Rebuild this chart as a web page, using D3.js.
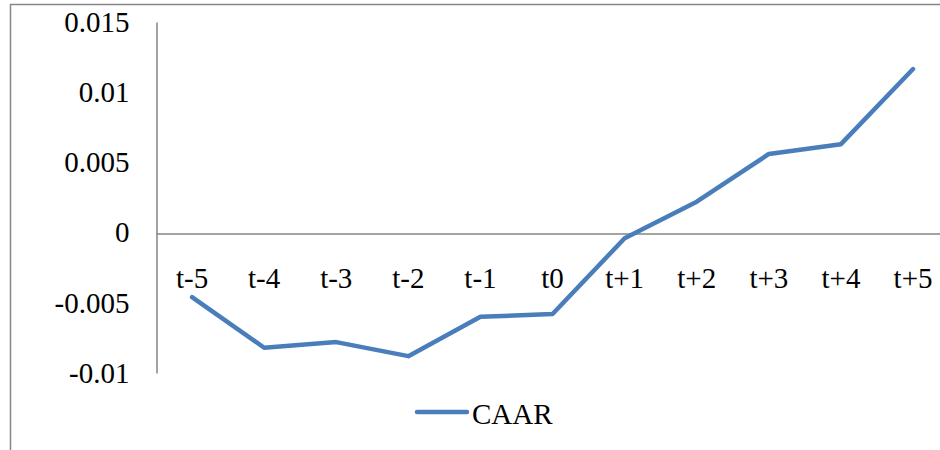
<!DOCTYPE html>
<html>
<head>
<meta charset="utf-8">
<script src="https://cdn.jsdelivr.net/npm/d3@7"></script>
<style>
  html, body { margin: 0; padding: 0; background: #fff; overflow: hidden; }
</style>
</head>
<body>
<div id="chart"></div>
<script>
const w = 940;
const h = 450;
const serif = "'Liberation Serif', 'Times New Roman', serif";

// data
var categories = ["t-5","t-4","t-3","t-2","t-1","t0","t+1","t+2","t+3","t+4","t+5"];
var caar = [-0.0046, -0.0082, -0.0078, -0.0088, -0.0060, -0.0058, -0.0004, 0.0022, 0.0056, 0.0063, 0.01165];
var yTicks = [-0.01, -0.005, 0, 0.005, 0.01, 0.015];
var yTickLabels = ["-0.01", "-0.005", "0", "0.005", "0.01", "0.015"];
var seriesName = "CAAR";

var lineColor = "#4a7ebb";
var gray = "#868686";

var svg = d3.select("#chart")
            .append("svg")
            .attr("width", w)
            .attr("height", h);

// outer chart frame (right / bottom run off the picture)
svg.append("rect")
   .attr("x", 10.5)
   .attr("y", 4.5)
   .attr("width", 1000)
   .attr("height", 600)
   .attr("fill", "none")
   .attr("stroke", gray)
   .attr("stroke-width", 1.5);

var x = d3.scaleBand()
          .domain(categories)
          .range([156, 156 + 11 * 72.1]);

var y = d3.scaleLinear()
          .domain([-0.01, 0.015])
          .range([373, 22]);

// y axis
var yAxis = d3.axisLeft(y)
              .tickValues(yTicks)
              .tickSize(0)
              .tickPadding(27)
              .tickFormat((d, i) => yTickLabels[i]);

var gy = svg.append("g")
            .attr("transform", "translate(156.5,0)")
            .call(yAxis)
            .attr("font-family", serif)
            .attr("font-size", 29);
gy.select(".domain").attr("stroke", gray).attr("stroke-width", 1.5);
gy.selectAll("text").style("font-family", serif).style("font-size", "29px").attr("fill", "#000");

// x axis at zero
var xAxis = d3.axisBottom(x)
              .tickSize(0)
              .tickPadding(34);

var gx = svg.append("g")
            .attr("transform", "translate(0," + (Math.round(y(0)) + 0.5) + ")")
            .call(xAxis)
            .attr("font-family", serif)
            .attr("font-size", 29);
gx.select(".domain").attr("stroke", gray).attr("stroke-width", 1.5);
gx.selectAll("text").style("font-family", serif).style("font-size", "29px").attr("fill", "#000");

// the line
var line = d3.line()
             .x((d, i) => x(categories[i]) + x.bandwidth() / 2)
             .y(d => y(d));

svg.append("path")
   .datum(caar)
   .attr("d", line)
   .attr("fill", "none")
   .attr("stroke", lineColor)
   .attr("stroke-width", 4.5)
   .attr("stroke-linejoin", "round")
   .attr("stroke-linecap", "round");

// legend
var legend = svg.append("g")
                .attr("transform", "translate(417,412)");
legend.append("line")
      .attr("x1", 0)
      .attr("x2", 50)
      .attr("stroke", lineColor)
      .attr("stroke-width", 4.5)
      .attr("stroke-linecap", "round");
legend.append("text")
      .attr("x", 55)
      .attr("y", 12)
      .style("font-family", serif)
      .style("font-size", "29px")
      .text(seriesName);
</script>
</body>
</html>
